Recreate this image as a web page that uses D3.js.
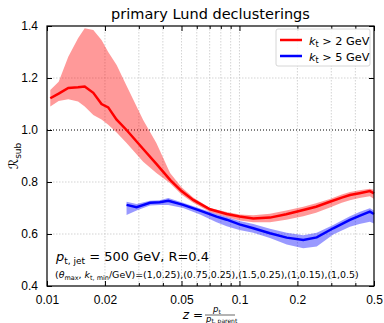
<!DOCTYPE html>
<html>
<head>
<meta charset="utf-8">
<script src="https://cdn.jsdelivr.net/npm/d3@7"></script>
<style>
  body { margin: 0; background: #fff; }
  svg { font-family: "DejaVu Sans", sans-serif; }
</style>
</head>
<body>
<svg width="384" height="323"></svg>
<script>
// red: kt > 2 GeV
const redZ = [0.0104, 0.0115, 0.0129, 0.0145, 0.0157, 0.0174, 0.0192, 0.0208, 0.023, 0.0259, 0.0316, 0.037, 0.0436, 0.05, 0.0575, 0.0703, 0.0858, 0.1, 0.118, 0.144, 0.175, 0.2146, 0.25, 0.295, 0.34, 0.375, 0.42, 0.476, 0.5];
const redMid = [1.122, 1.14, 1.162, 1.164, 1.167, 1.143, 1.10, 1.087, 1.04, 1.0, 0.927, 0.87, 0.808, 0.765, 0.731, 0.695, 0.677, 0.667, 0.66, 0.663, 0.676, 0.692, 0.705, 0.724, 0.74, 0.75, 0.757, 0.765, 0.756];
const redHi = [1.154, 1.186, 1.282, 1.353, 1.391, 1.385, 1.346, 1.30, 1.25, 1.17, 1.038, 0.95, 0.835, 0.78, 0.74, 0.70, 0.685, 0.675, 0.672, 0.678, 0.69, 0.705, 0.718, 0.735, 0.752, 0.762, 0.768, 0.774, 0.77];
const redLo = [1.09, 1.112, 1.118, 1.11, 1.09, 1.058, 1.04, 1.02, 0.99, 0.95, 0.878, 0.835, 0.795, 0.752, 0.72, 0.685, 0.665, 0.652, 0.645, 0.645, 0.655, 0.668, 0.682, 0.702, 0.72, 0.73, 0.738, 0.745, 0.735];

// blue: kt > 5 GeV
const blueZ = [0.0259, 0.0292, 0.0343, 0.0385, 0.0427, 0.051, 0.0624, 0.076, 0.0858, 0.1, 0.118, 0.144, 0.176, 0.2146, 0.252, 0.307, 0.375, 0.42, 0.476, 0.5];
const blueMid = [0.712, 0.703, 0.72, 0.722, 0.728, 0.712, 0.69, 0.667, 0.655, 0.637, 0.622, 0.603, 0.586, 0.577, 0.587, 0.622, 0.654, 0.67, 0.686, 0.677];
const blueHi = [0.724, 0.715, 0.728, 0.73, 0.738, 0.72, 0.698, 0.677, 0.665, 0.65, 0.638, 0.62, 0.605, 0.595, 0.605, 0.635, 0.668, 0.685, 0.699, 0.69];
const blueLo = [0.673, 0.69, 0.71, 0.712, 0.712, 0.7, 0.675, 0.645, 0.63, 0.615, 0.605, 0.585, 0.56, 0.545, 0.552, 0.598, 0.628, 0.638, 0.647, 0.64];

const xTickLabels = [0.01, 0.02, 0.05, 0.1, 0.2, 0.5];
const xMinor = [0.03, 0.04, 0.06, 0.07, 0.08, 0.09, 0.3, 0.4];
const yTicks = [0.4, 0.6, 0.8, 1.0, 1.2, 1.4];

const margin = { top: 26, right: 10, bottom: 37, left: 47 };
const width = 384 - margin.left - margin.right;
const height = 323 - margin.top - margin.bottom;

const svg = d3.select('svg');
const g = svg.append('g').attr('transform', `translate(${margin.left},${margin.top})`);

const x = d3.scaleLog().domain([0.01, 0.5]).range([0, width]);
const y = d3.scaleLinear().domain([0.4, 1.4]).range([height, 0]);

// grid
const gridX = xTickLabels.concat(xMinor).filter(d => d > 0.01 && d < 0.5);
g.append('g').selectAll('line').data(gridX).enter().append('line')
    .attr('x1', d => x(d)).attr('x2', d => x(d))
    .attr('y1', 0).attr('y2', height)
    .attr('stroke', '#c8c8c8').attr('stroke-width', 0.8).attr('stroke-dasharray', '1.5,1.5');
g.append('g').selectAll('line').data([0.6, 0.8, 1.2]).enter().append('line')
    .attr('x1', 0).attr('x2', width)
    .attr('y1', d => y(d)).attr('y2', d => y(d))
    .attr('stroke', '#c8c8c8').attr('stroke-width', 0.8).attr('stroke-dasharray', '1.5,1.5');
g.append('line')
    .attr('x1', 0).attr('x2', width).attr('y1', y(1)).attr('y2', y(1))
    .attr('stroke', '#000').attr('stroke-width', 1).attr('stroke-dasharray', '1,2');

// bands and lines
const band = (zs, lo, hi) => d3.area()
    .x((d, i) => x(zs[i])).y0((d, i) => y(lo[i])).y1((d, i) => y(hi[i]))(zs);
const line = (zs, v) => d3.line().x((d, i) => x(zs[i])).y((d, i) => y(v[i]))(zs);

g.append('path').attr('d', band(redZ, redLo, redHi)).attr('fill', '#ff0000').attr('fill-opacity', 0.4);
g.append('path').attr('d', band(blueZ, blueLo, blueHi)).attr('fill', '#0000ff').attr('fill-opacity', 0.4);
g.append('path').attr('d', line(redZ, redMid)).attr('fill', 'none').attr('stroke', '#ff0000').attr('stroke-width', 2.5);
g.append('path').attr('d', line(blueZ, blueMid)).attr('fill', 'none').attr('stroke', '#0000ff').attr('stroke-width', 2.5);

// axes
const styleAxis = sel => {
    sel.select('.domain').remove();
    sel.selectAll('line').attr('stroke', '#000');
    sel.selectAll('text').attr('font-size', 12).attr('fill', '#000');
};
const allX = xTickLabels.concat(xMinor);
g.append('g').attr('transform', `translate(0,${height})`)
    .call(d3.axisBottom(x).tickValues(allX).tickSizeInner(-5).tickSizeOuter(0).tickPadding(9)
        .tickFormat(d => xTickLabels.includes(d) ? String(d) : ''))
    .call(styleAxis)
    .call(s => s.selectAll('.tick').filter(d => !xTickLabels.includes(d)).select('line').attr('y2', -3));
g.append('g')
    .call(d3.axisTop(x).tickValues(allX).tickSizeInner(-5).tickSizeOuter(0).tickFormat(''))
    .call(styleAxis)
    .call(s => s.selectAll('.tick').filter(d => !xTickLabels.includes(d)).select('line').attr('y2', 3));
g.append('g')
    .call(d3.axisLeft(y).tickValues(yTicks).tickSizeInner(-5).tickSizeOuter(0).tickPadding(9).tickFormat(d3.format('.1f')))
    .call(styleAxis);
g.append('g').attr('transform', `translate(${width},0)`)
    .call(d3.axisRight(y).tickValues(yTicks).tickSizeInner(-5).tickSizeOuter(0).tickFormat(''))
    .call(styleAxis);
g.append('rect').attr('width', width).attr('height', height)
    .attr('fill', 'none').attr('stroke', '#000').attr('stroke-width', 1.2);

// title
svg.append('text').attr('x', margin.left + width / 2).attr('y', 19)
    .attr('text-anchor', 'middle').attr('font-size', 14.5).text('primary Lund declusterings');

// legend
const legend = g.append('g').attr('transform', `translate(${width - 98},3)`);
legend.append('rect').attr('width', 94).attr('height', 37).attr('rx', 2)
    .attr('fill', '#fff').attr('fill-opacity', 0.85).attr('stroke', '#ccc').attr('stroke-width', 0.8);
const legendItems = [{ c: '#ff0000', v: '2' }, { c: '#0000ff', v: '5' }];
legendItems.forEach((it, i) => {
    const ly = 11 + i * 16;
    legend.append('line').attr('x1', 4).attr('x2', 26).attr('y1', ly).attr('y2', ly)
        .attr('stroke', it.c).attr('stroke-width', 2.5);
    const t = legend.append('text').attr('x', 33).attr('y', ly + 4.5).attr('font-size', 11.3);
    t.append('tspan').attr('font-style', 'italic').text('k');
    t.append('tspan').attr('font-size', 8).attr('dy', 2).text('t');
    t.append('tspan').attr('dy', -2).text(` > ${it.v} GeV`);
});

// annotation
const a1 = g.append('text').attr('x', 9).attr('y', height - 25).attr('font-size', 13);
a1.append('tspan').attr('font-style', 'italic').text('p');
a1.append('tspan').attr('font-size', 9).attr('dy', 3).text('t, jet');
a1.append('tspan').attr('dy', -3).text(' = 500 GeV, R=0.4');

const a2 = g.append('text').attr('x', 8).attr('y', height - 8).attr('font-size', 9.4);
a2.append('tspan').text('(');
a2.append('tspan').attr('font-style', 'italic').text('θ');
a2.append('tspan').attr('font-size', 6.5).attr('dy', 2).text('max');
a2.append('tspan').attr('dy', -2).text(', ');
a2.append('tspan').attr('font-style', 'italic').text('k');
a2.append('tspan').attr('font-size', 6.5).attr('dy', 2).text('t, min');
a2.append('tspan').attr('dy', -2).text('/GeV)=(1,0.25),(0.75,0.25),(1.5,0.25),(1,0.15),(1,0.5)');

// y label
const yl = svg.append('text').attr('transform', `translate(18,${margin.top + height / 2}) rotate(-90)`)
    .attr('text-anchor', 'middle').attr('font-size', 13);
yl.append('tspan').attr('font-style', 'italic').text('ℛ');
yl.append('tspan').attr('font-size', 9).attr('dy', 3).text('sub');

// x label as a fraction
const fx = 205;
const xl = svg.append('g');
xl.append('text').attr('x', fx - 2).attr('y', 319).attr('text-anchor', 'end').attr('font-size', 12)
    .html('<tspan font-style="italic">z</tspan> =');
xl.append('text').attr('x', fx + 12).attr('y', 312).attr('text-anchor', 'middle').attr('font-size', 8.5)
    .html('<tspan font-style="italic">p</tspan><tspan font-size="6" dy="1.5">t</tspan>');
xl.append('line').attr('x1', fx).attr('x2', fx + 30).attr('y1', 315).attr('y2', 315)
    .attr('stroke', '#000').attr('stroke-width', 0.6);
xl.append('text').attr('x', fx + 1).attr('y', 322).attr('font-size', 8.5)
    .html('<tspan font-style="italic">p</tspan><tspan font-size="6" dy="1">t, parent</tspan>');
</script>
</body>
</html>
